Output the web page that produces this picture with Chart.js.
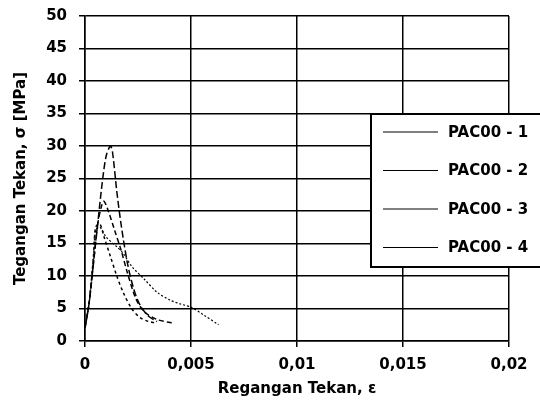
<!DOCTYPE html>
<html lang="en">
<head>
    <meta charset="UTF-8">
    <title>Tegangan - Regangan PAC00</title>
    <script src="https://cdn.jsdelivr.net/npm/chart.js@4.4.1/dist/chart.umd.min.js"></script>
    <style>
        html, body { margin: 0; padding: 0; background: #fff; }
        #wrap { width: 540px; height: 412px; }
    </style>
</head>
<body>
<div id="wrap"><canvas id="stressChart" width="540" height="412"></canvas></div>
<script>
    // data
    const seriesNames = ['PAC00 - 1', 'PAC00 - 2', 'PAC00 - 3', 'PAC00 - 4'];

    const strain1 = [0, 0.0002, 0.0004, 0.0006, 0.0008, 0.001, 0.0012, 0.0013, 0.0015, 0.0017, 0.002, 0.0023, 0.0026, 0.003, 0.0034];
    const stress1 = [2, 6, 12, 18, 24, 28.5, 30, 29, 23, 18, 12, 8, 5.5, 3.8, 3];

    const strain2 = [0, 0.0002, 0.0004, 0.0006, 0.0008, 0.0009, 0.0011, 0.0014, 0.0017, 0.002, 0.0024, 0.0028, 0.0034, 0.0041];
    const stress2 = [2, 6, 12, 18, 21, 21.5, 20, 17, 14, 10.5, 6.5, 4.5, 3.3, 2.8];

    const strain3 = [0, 0.0002, 0.0004, 0.0005, 0.0007, 0.0009, 0.0012, 0.0015, 0.0018, 0.0022, 0.0026, 0.003, 0.0033];
    const stress3 = [2, 6, 13, 17.5, 18, 16, 13, 10, 7.5, 5, 3.6, 3, 2.8];

    const strain4 = [0, 0.0002, 0.0004, 0.0005, 0.0007, 0.001, 0.0015, 0.0018, 0.0022, 0.0028, 0.0034, 0.004, 0.0045, 0.005, 0.0056, 0.0063];
    const stress4 = [2, 6, 13, 17, 17.5, 16, 14.5, 13.5, 11.5, 9.5, 7.5, 6.3, 5.7, 5.2, 4, 2.5];

    const xTickLabels = ['0', '0,005', '0,01', '0,015', '0,02'];

    const dashes = [[7, 3], [5, 3], [3, 3], [2, 2]];
    const widths = [1.5, 1.5, 1.5, 1.2];

    const FONT = '"DejaVu Sans", Verdana, sans-serif';

    function pts(xs, ys) {
        return xs.map((x, i) => ({ x: x, y: ys[i] }));
    }

    const allSeries = [pts(strain1, stress1), pts(strain2, stress2), pts(strain3, stress3), pts(strain4, stress4)];

    // legend box sitting on top of the plot, cut off at the right edge
    const boxLegend = {
        id: 'boxLegend',
        afterDraw(chart) {
            const ctx = chart.ctx;
            ctx.save();
            ctx.fillStyle = '#fff';
            ctx.fillRect(371, 114, 180, 153);
            ctx.strokeStyle = '#000';
            ctx.lineWidth = 2;
            ctx.strokeRect(371, 114, 180, 153);
            ctx.font = 'bold 15px ' + FONT;
            ctx.textBaseline = 'middle';
            ctx.fillStyle = '#000';
            chart.data.datasets.forEach((ds, i) => {
                const y = 132 + i * 38.5;
                ctx.beginPath();
                ctx.lineWidth = 1;
                ctx.moveTo(383, y);
                ctx.lineTo(438, y);
                ctx.stroke();
                ctx.fillText(ds.label, 448, y + 1);
            });
            ctx.restore();
        }
    };

    const ctx = document.getElementById('stressChart').getContext('2d');
    new Chart(ctx, {
        type: 'scatter',
        data: {
            datasets: allSeries.map((d, i) => ({
                label: seriesNames[i],
                data: d,
                showLine: true,
                borderColor: '#000',
                borderWidth: widths[i],
                borderDash: dashes[i],
                pointRadius: 0,
                tension: 0.3,
                fill: false
            }))
        },
        options: {
            responsive: false,
            animation: false,
            layout: { padding: { top: 16, right: 31, left: 0, bottom: 0 } },
            plugins: {
                legend: { display: false },
                tooltip: { enabled: false }
            },
            scales: {
                x: {
                    type: 'linear',
                    min: 0,
                    max: 0.02,
                    afterFit: s => { s.height = 71; s.paddingLeft = 0; s.paddingRight = 0; },
                    afterBuildTicks: s => {
                        s.ticks = xTickLabels.map((t, i) => ({ value: i * 0.005 }));
                    },
                    ticks: {
                        color: '#000',
                        padding: 9,
                        font: { family: FONT, size: 15, weight: 'bold' },
                        callback: (v, i) => xTickLabels[i]
                    },
                    grid: { color: '#000', lineWidth: 1.5, tickLength: 6 },
                    border: { color: '#000', width: 1.5 },
                    title: {
                        display: true,
                        text: 'Regangan Tekan, ε',
                        color: '#000',
                        padding: { top: 0, bottom: 14 },
                        font: { family: FONT, size: 15, weight: 'bold' }
                    }
                },
                y: {
                    min: 0,
                    max: 50,
                    afterFit: s => { s.width = 85; s.paddingTop = 0; s.paddingBottom = 0; },
                    ticks: {
                        stepSize: 5,
                        color: '#000',
                        padding: 12,
                        font: { family: FONT, size: 15, weight: 'bold' }
                    },
                    grid: { color: '#000', lineWidth: 1.5, tickLength: 6 },
                    border: { color: '#000', width: 1.5 },
                    title: {
                        display: true,
                        text: 'Tegangan Tekan, σ [MPa]',
                        color: '#000',
                        padding: { top: 12, bottom: 0 },
                        font: { family: FONT, size: 15, weight: 'bold' }
                    }
                }
            }
        },
        plugins: [boxLegend]
    });
</script>
</body>
</html>
